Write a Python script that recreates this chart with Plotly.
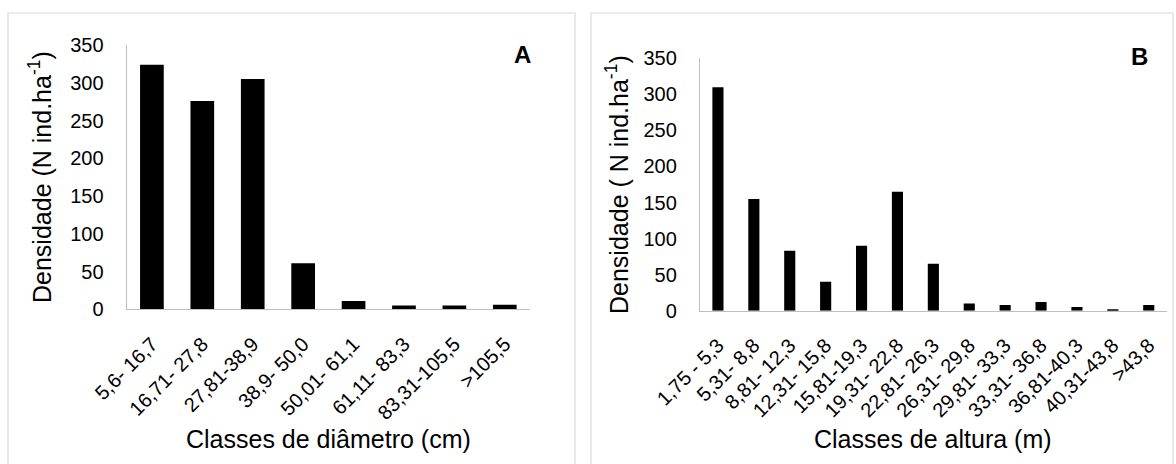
import plotly.graph_objects as go

# ---- data ----
diam_classes = ["5,6- 16,7", "16,71- 27,8", "27,81-38,9", "38,9- 50,0",
                "50,01- 61,1", "61,11- 83,3", "83,31-105,5", ">105,5"]
diam_density = [323, 275, 304, 60, 10, 4, 4, 5]

alt_classes = ["1,75 - 5,3", "5,31- 8,8", "8,81- 12,3", "12,31- 15,8", "15,81-19,3",
               "19,31- 22,8", "22,81- 26,3", "26,31- 29,8", "29,81- 33,3", "33,31- 36,8",
               "36,81-40,3", "40,31-43,8", ">43,8"]
alt_density = [310, 155, 83, 40, 90, 165, 65, 10, 8, 12, 5, 2, 8]

y_ticks = [0, 50, 100, 150, 200, 250, 300, 350]

W, H = 1176, 464
FONT = "Arial, Liberation Sans, sans-serif"

def px_x(x):
    return x / W

def px_y(y):
    return (H - y) / H

fig = go.Figure()
fig.add_trace(go.Bar(x=diam_classes, y=diam_density, xaxis="x", yaxis="y",
                     width=0.44, marker=dict(color="black", line=dict(color="black", width=1.5)),
                     showlegend=False))
fig.add_trace(go.Bar(x=alt_classes, y=alt_density, xaxis="x2", yaxis="y2",
                     width=0.31, marker=dict(color="black", line=dict(width=0)),
                     showlegend=False))

axis_common = dict(showgrid=False, zeroline=False, showline=True, linecolor="#bfbfbf",
                   linewidth=1.3, automargin=False,
                   tickfont=dict(family=FONT, size=20, color="black"))

fig.update_layout(
    template="none",
    width=W, height=H, margin=dict(l=0, r=0, t=0, b=0, pad=0, autoexpand=False),
    paper_bgcolor="white", plot_bgcolor="white",
    font=dict(family=FONT, color="black"),
    xaxis=dict(domain=[px_x(126.7), px_x(530)], anchor="y", type="category",
               tickangle=-45, ticks="", ticklabelstandoff=14, **axis_common),
    yaxis=dict(domain=[px_y(309.3), px_y(45)], anchor="x", range=[0, 350],
               tickvals=y_ticks, ticks="", ticklabelstandoff=18, **axis_common),
    xaxis2=dict(domain=[px_x(700), px_x(1166.7)], anchor="y2", type="category",
                tickangle=-45, ticks="", ticklabelstandoff=14, **axis_common),
    yaxis2=dict(domain=[px_y(310.7), px_y(58.3)], anchor="x2", range=[0, 350],
                tickvals=y_ticks, ticks="", ticklabelstandoff=18, **axis_common),
)

# panel borders
fig.add_shape(type="rect", xref="paper", yref="paper",
              x0=px_x(8), x1=px_x(575), y0=px_y(480), y1=px_y(13),
              line=dict(color="#d9d9d9", width=1.2), fillcolor="rgba(0,0,0,0)", layer="below")
fig.add_shape(type="rect", xref="paper", yref="paper",
              x0=px_x(591), x1=px_x(1173), y0=px_y(480), y1=px_y(13),
              line=dict(color="#d9d9d9", width=1.2), fillcolor="rgba(0,0,0,0)", layer="below")

ann = []
ann.append(dict(text="<b>A</b>", x=px_x(522), y=px_y(55), font=dict(size=24)))
ann.append(dict(text="<b>B</b>", x=px_x(1139), y=px_y(57), font=dict(size=24)))
ann.append(dict(text="Densidade (N ind.ha<sup>-1</sup>)", x=px_x(40), y=px_y(177),
                textangle=-90, font=dict(size=25)))
ann.append(dict(text="Densidade ( N ind.ha<sup>-1</sup>)", x=px_x(617), y=px_y(185),
                textangle=-90, font=dict(size=25)))
ann.append(dict(text="Classes de diâmetro (cm)", x=px_x(328), y=px_y(439), font=dict(size=25)))
ann.append(dict(text="Classes de altura (m)", x=px_x(933), y=px_y(439), font=dict(size=25)))
for a in ann:
    a.update(xref="paper", yref="paper", showarrow=False, xanchor="center", yanchor="middle")
    a["font"].update(family=FONT, color="black")
fig.update_layout(annotations=ann)

fig.write_html("out.html")
